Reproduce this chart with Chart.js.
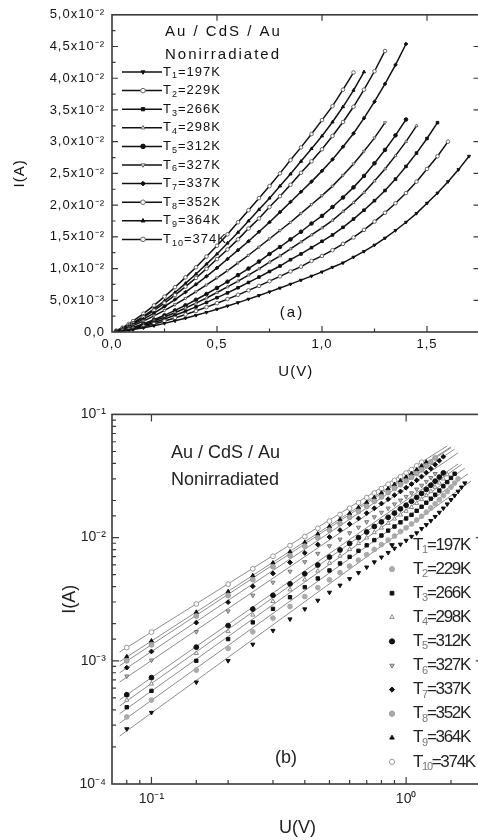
<!DOCTYPE html>
<html>
<head>
<meta charset="utf-8">
<title>Au / CdS / Au - I(U)</title>
<script src="https://cdn.jsdelivr.net/npm/chart.js@4.4.1/dist/chart.umd.min.js"></script>
<style>
  html, body { margin: 0; padding: 0; background: #fff; overflow: hidden; }
  canvas { position: absolute; left: 0; }
  #linear { top: 0; }
  #loglog { top: 400px; }
</style>
</head>
<body>
<canvas id="linear" width="490" height="400"></canvas>
<canvas id="loglog" width="490" height="440"></canvas>
<script>
const FONT = "'Liberation Sans', Arial, Helvetica, sans-serif";

const temps = [197, 229, 266, 298, 312, 327, 337, 352, 364, 374];

// bias, V
const voltage = [0.02, 0.05, 0.08, 0.1, 0.15, 0.2, 0.25, 0.3, 0.35, 0.4, 0.45, 0.5,
  0.55, 0.6, 0.65, 0.7, 0.75, 0.8, 0.85, 0.9, 0.95, 1.0, 1.05, 1.1, 1.15, 1.2,
  1.25, 1.3, 1.35, 1.4, 1.45, 1.5, 1.55, 1.6, 1.65, 1.7];

// current, mA (one list per temperature, same voltage steps)
const i197 = [0.04, 0.14, 0.28, 0.38, 0.67, 1.00, 1.36, 1.76, 2.18, 2.63, 3.09, 3.59, 4.10, 4.63, 5.18, 5.75, 6.33, 6.93, 7.54, 8.17, 8.81, 9.47, 10.2, 10.9, 11.8, 12.7, 13.7, 14.8, 16.0, 17.3, 18.7, 20.3, 21.9, 23.7, 25.6, 27.7];
const i229 = [0.05, 0.18, 0.35, 0.48, 0.84, 1.26, 1.72, 2.22, 2.76, 3.32, 3.92, 4.54, 5.19, 5.86, 6.56, 7.27, 8.01, 8.77, 9.55, 10.3, 11.2, 12.0, 12.9, 13.9, 14.9, 16.1, 17.4, 18.8, 20.3, 21.9, 23.7, 25.7, 27.7, 30.0];
const i266 = [0.06, 0.22, 0.42, 0.57, 1.00, 1.50, 2.05, 2.64, 3.28, 3.96, 4.66, 5.41, 6.17, 6.98, 7.81, 8.66, 9.54, 10.4, 11.4, 12.3, 13.3, 14.3, 15.3, 16.5, 17.8, 19.2, 20.7, 22.3, 24.1, 26.1, 28.2, 30.5, 33.0];
const i298 = [0.07, 0.25, 0.48, 0.65, 1.15, 1.73, 2.36, 3.04, 3.78, 4.55, 5.36, 6.22, 7.10, 8.03, 8.98, 9.96, 11.0, 12.0, 13.1, 14.2, 15.3, 16.4, 17.6, 19.0, 20.4, 22.0, 23.8, 25.7, 27.8, 30.0, 32.5];
const i312 = [0.08, 0.28, 0.53, 0.73, 1.29, 1.93, 2.63, 3.40, 4.21, 5.08, 5.99, 6.95, 7.93, 8.96, 10.0, 11.1, 12.3, 13.4, 14.6, 15.8, 17.1, 18.3, 19.7, 21.2, 22.8, 24.6, 26.6, 28.7, 31.0, 33.5];
const i327 = [0.12, 0.40, 0.75, 1.01, 1.72, 2.53, 3.40, 4.33, 5.31, 6.35, 7.42, 8.55, 9.69, 10.9, 12.1, 13.4, 14.7, 16.0, 17.3, 18.7, 20.1, 21.5, 23.0, 24.7, 26.5, 28.5, 30.6, 33.0];
const i337 = [0.14, 0.47, 0.88, 1.19, 2.04, 2.99, 4.02, 5.12, 6.29, 7.51, 8.78, 10.1, 11.5, 12.9, 14.3, 15.8, 17.3, 18.9, 20.5, 22.1, 23.7, 25.4, 27.2, 29.2, 31.3, 33.7, 36.3, 39.1, 42.1, 45.4];
const i352 = [0.16, 0.54, 1.00, 1.35, 2.31, 3.39, 4.56, 5.81, 7.14, 8.53, 9.96, 11.5, 13.0, 14.6, 16.3, 17.9, 19.7, 21.4, 23.2, 25.1, 26.9, 28.8, 30.9, 33.1, 35.5, 38.2, 41.1, 44.3];
const i364 = [0.17, 0.58, 1.08, 1.45, 2.48, 3.64, 4.90, 6.23, 7.66, 9.15, 10.7, 12.3, 14.0, 15.7, 17.5, 19.3, 21.1, 23.0, 24.9, 26.9, 28.9, 30.9, 33.1, 35.5, 38.1, 41.0];
const i374 = [0.22, 0.70, 1.28, 1.71, 2.89, 4.19, 5.58, 7.06, 8.61, 10.2, 11.9, 13.6, 15.4, 17.3, 19.2, 21.1, 23.0, 25.0, 27.1, 29.1, 31.2, 33.4, 35.6, 38.2, 40.9];
const currents = [i197, i229, i266, i298, i312, i327, i337, i352, i364, i374];

// straight power-law fits in the log-log panel: end voltages (V) and currents (mA)
const fitFromU = 0.075;
const fitToU = [1.8, 1.75, 1.7, 1.65, 1.6, 1.6, 1.55, 1.5, 1.5, 1.45];
const fitFromI = [0.245, 0.312, 0.372, 0.430, 0.482, 0.672, 0.799, 0.912, 0.984, 1.178];
const fitToI = [28.8, 33.0, 36.6, 39.2, 39.6, 48.7, 52.2, 53.6, 54.5, 55.4];

// tick labels
const uTicks = [0, 0.5, 1.0, 1.5];
const uTickLabels = ['0,0', '0,5', '1,0', '1,5'];
const iTicks = [0, 0.005, 0.01, 0.015, 0.02, 0.025, 0.03, 0.035, 0.04, 0.045, 0.05];
const iTickLabels = ['0,0', '5,0x10⁻³', '1,0x10⁻²', '1,5x10⁻²', '2,0x10⁻²', '2,5x10⁻²',
  '3,0x10⁻²', '3,5x10⁻²', '4,0x10⁻²', '4,5x10⁻²', '5,0x10⁻²'];
const uLogTicks = [0.1, 1];
const uLogTickLabels = ['10⁻¹', '10⁰'];
const iLogTicks = [1e-4, 1e-3, 1e-2, 1e-1];
const iLogTickLabels = ['10⁻⁴', '10⁻³', '10⁻²', '10⁻¹'];

// marker per temperature
const shapes = ['triangle', 'circle', 'rect', 'triangle', 'circle', 'triangle', 'rectRot', 'circle', 'triangle', 'circle'];
const turns = [180, 0, 0, 0, 0, 180, 0, 0, 0, 0];
const solid = [true, false, true, false, true, false, true, false, true, false];
const logFill = ['#111', '#aaa', '#111', '#fff', '#111', '#bbb', '#111', '#aaa', '#111', '#fff'];
const logEdge = ['#111', '#aaa', '#111', '#888', '#111', '#777', '#111', '#999', '#111', '#999'];

const points = (arr, minU) => arr
  .map((v, k) => ({ x: voltage[k], y: v / 1000 }))
  .filter(p => p.x >= minU);

const pick = (ticks, labels) => v => {
  const k = ticks.findIndex(t => Math.abs(t - v) <= Math.abs(t) * 1e-6 + 1e-12);
  return k < 0 ? '' : labels[k];
};

// box around the plot with inward ticks (minor ticks only left and bottom)
const framePlugin = {
  id: 'frame',
  beforeDraw(chart, args, o) {
    chart.ctx.letterSpacing = o.spacing + 'px';
  },
  afterDatasetsDraw(chart, args, o) {
    const { ctx, chartArea: a, scales: { x, y } } = chart;
    ctx.save();
    ctx.strokeStyle = '#3a3a3a';
    ctx.lineWidth = o.width;
    ctx.strokeRect(a.left, a.top, a.right - a.left, a.bottom - a.top);
    ctx.lineWidth = 1.2;
    ctx.beginPath();
    x.ticks.forEach(t => {
      const px = x.getPixelForValue(t.value);
      if (px <= a.left + 1 || px >= a.right - 1) return;
      const len = t.label ? o.major : o.minor;
      ctx.moveTo(px, a.bottom);
      ctx.lineTo(px, a.bottom - len);
      if (t.label) {
        ctx.moveTo(px, a.top);
        ctx.lineTo(px, a.top + o.major);
      }
    });
    y.ticks.forEach(t => {
      const py = y.getPixelForValue(t.value);
      if (py >= a.bottom - 1 || py <= a.top + 1) return;
      const len = t.label ? o.major : o.minor;
      ctx.moveTo(a.left, py);
      ctx.lineTo(a.left + len, py);
      if (t.label) {
        ctx.moveTo(a.right, py);
        ctx.lineTo(a.right - o.major, py);
      }
    });
    ctx.stroke();
    ctx.restore();
  }
};

// free text and the temperature key
const notesPlugin = {
  id: 'notes',
  afterDraw(chart, args, o) {
    const ctx = chart.ctx;
    ctx.save();
    ctx.textBaseline = 'middle';
    o.texts.forEach(t => {
      ctx.font = t.size + 'px ' + FONT;
      ctx.letterSpacing = t.spacing + 'px';
      ctx.textAlign = t.align;
      ctx.fillStyle = o.color;
      ctx.fillText(t.text, t.x, t.y);
    });

    const L = o.key;
    ctx.textAlign = 'left';
    ctx.letterSpacing = L.spacing + 'px';
    chart.data.datasets.forEach((ds, i) => {
      if (ds.fit) return;
      const y = L.top + i * L.step;
      if (L.line) {
        ctx.strokeStyle = ds.borderColor;
        ctx.lineWidth = ds.borderWidth;
        ctx.beginPath();
        ctx.moveTo(L.x0, y);
        ctx.lineTo(L.x1, y);
        ctx.stroke();
      }
      ctx.fillStyle = ds.pointBackgroundColor;
      ctx.strokeStyle = ds.pointBorderColor;
      ctx.lineWidth = ds.pointBorderWidth;
      Chart.helpers.drawPoint(ctx, {
        pointStyle: ds.pointStyle, rotation: ds.pointRotation,
        radius: L.radius, borderWidth: ds.pointBorderWidth
      }, L.mx, y);

      let tx = L.tx;
      ctx.fillStyle = o.color;
      ctx.font = L.size + 'px ' + FONT;
      ctx.fillText('T', tx, y);
      tx += ctx.measureText('T').width;
      ctx.font = L.sub + 'px ' + FONT;
      ctx.fillStyle = L.subColor;
      const n = String(i + 1);
      ctx.fillText(n, tx, y + L.subDy);
      tx += ctx.measureText(n).width;
      ctx.font = L.size + 'px ' + FONT;
      ctx.fillStyle = o.color;
      ctx.fillText('=' + temps[i] + 'K', tx, y);
    });
    ctx.restore();
  }
};

const baseFont = size => ({ family: FONT, size: size });

// (a) linear I-U
new Chart(document.getElementById('linear'), {
  type: 'scatter',
  data: {
    datasets: currents.map((arr, i) => ({
      label: 'T' + (i + 1) + '=' + temps[i] + 'K',
      data: points(arr, 0),
      showLine: true,
      borderColor: '#111',
      borderWidth: 1.5,
      pointStyle: shapes[i],
      pointRotation: turns[i],
      pointRadius: 1.8,
      pointBackgroundColor: solid[i] ? '#111' : '#fff',
      pointBorderColor: solid[i] ? '#111' : '#666',
      pointBorderWidth: 1
    }))
  },
  options: {
    responsive: false,
    animation: false,
    events: [],
    devicePixelRatio: 1,
    layout: { padding: { left: 0, top: 14, right: 10.5, bottom: 0 } },
    plugins: {
      legend: { display: false },
      tooltip: { enabled: false },
      frame: { spacing: 1, width: 1.6, major: 6, minor: 3.5 },
      notes: {
        color: '#111',
        texts: [
          { text: 'Au / CdS / Au', x: 165, y: 32, size: 15, spacing: 2, align: 'left' },
          { text: 'Nonirradiated', x: 165, y: 55, size: 15, spacing: 2, align: 'left' },
          { text: '(a)', x: 292, y: 313, size: 15, spacing: 2, align: 'center' }
        ],
        key: { top: 72, step: 18.6, line: true, x0: 122, x1: 162, mx: 143, tx: 163,
          size: 13, sub: 9, subDy: 4, subColor: '#111', spacing: 1, radius: 2.3 }
      }
    },
    scales: {
      x: {
        type: 'linear', min: 0, max: 1.75,
        grid: { display: false, drawTicks: false },
        border: { display: false },
        ticks: { stepSize: 0.25, autoSkip: false, maxRotation: 0, padding: 5,
          color: '#111', font: baseFont(13), callback: pick(uTicks, uTickLabels) },
        title: { display: true, text: 'U(V)', color: '#111', font: baseFont(15),
          padding: { top: 0, bottom: 19 } },
        afterFit: s => { s.height = 68; }
      },
      y: {
        type: 'linear', min: 0, max: 0.05,
        grid: { display: false, drawTicks: false },
        border: { display: false },
        ticks: { stepSize: 0.0025, autoSkip: false, padding: 7,
          color: '#111', font: baseFont(13), callback: pick(iTicks, iTickLabels) },
        title: { display: true, text: 'I(A)', color: '#111', font: baseFont(15),
          padding: { top: 11, bottom: 0 } },
        afterFit: s => { s.width = 112; }
      }
    }
  },
  plugins: [framePlugin, notesPlugin]
});

// (b) log-log I-U with power-law fits
const logMarks = currents.map((arr, i) => ({
  label: 'T' + (i + 1) + '=' + temps[i] + 'K',
  data: points(arr, 0.07),
  showLine: false,
  pointStyle: shapes[i],
  pointRotation: turns[i],
  pointRadius: 2.4,
  pointBackgroundColor: logFill[i],
  pointBorderColor: logEdge[i],
  pointBorderWidth: 1
}));
const logFits = fitToU.map((u, i) => ({
  fit: true,
  data: [{ x: fitFromU, y: fitFromI[i] / 1000 }, { x: u, y: fitToI[i] / 1000 }],
  showLine: true,
  borderColor: '#8c8c8c',
  borderWidth: 1,
  pointRadius: 0
}));

new Chart(document.getElementById('loglog'), {
  type: 'scatter',
  data: { datasets: logMarks.concat(logFits) },
  options: {
    responsive: false,
    animation: false,
    events: [],
    devicePixelRatio: 1,
    layout: { padding: { left: 0, top: 9, right: 7.2, bottom: 0 } },
    plugins: {
      legend: { display: false },
      tooltip: { enabled: false },
      frame: { spacing: 0, width: 1.6, major: 7, minor: 4 },
      notes: {
        color: '#222',
        texts: [
          { text: 'Au / CdS / Au', x: 171, y: 53, size: 18, spacing: 0, align: 'left' },
          { text: 'Nonirradiated', x: 171, y: 80, size: 18, spacing: 0, align: 'left' },
          { text: '(b)', x: 286, y: 358, size: 18, spacing: 0, align: 'center' }
        ],
        key: { top: 145, step: 24.1, line: false, mx: 392, tx: 413,
          size: 17, sub: 11, subDy: 5, subColor: '#777', spacing: -1.3, radius: 2.6 }
      }
    },
    scales: {
      x: {
        type: 'logarithmic', min: 0.07, max: 2,
        grid: { display: false, drawTicks: false },
        border: { display: false },
        ticks: { autoSkip: false, maxRotation: 0, padding: 7,
          color: '#222', font: baseFont(14), callback: pick(uLogTicks, uLogTickLabels) },
        title: { display: true, text: 'U(V)', color: '#222', font: baseFont(18),
          padding: { top: 0, bottom: 1 } },
        afterFit: s => { s.height = 56; }
      },
      y: {
        type: 'logarithmic', min: 1e-4, max: 0.1,
        grid: { display: false, drawTicks: false },
        border: { display: false },
        ticks: { autoSkip: false, padding: 6,
          color: '#222', font: baseFont(14), callback: pick(iLogTicks, iLogTickLabels) },
        title: { display: true, text: 'I(A)', color: '#222', font: baseFont(18),
          padding: { top: 59, bottom: 0 } },
        afterFit: s => { s.width = 112; }
      }
    }
  },
  plugins: [framePlugin, notesPlugin]
});
</script>
</body>
</html>
